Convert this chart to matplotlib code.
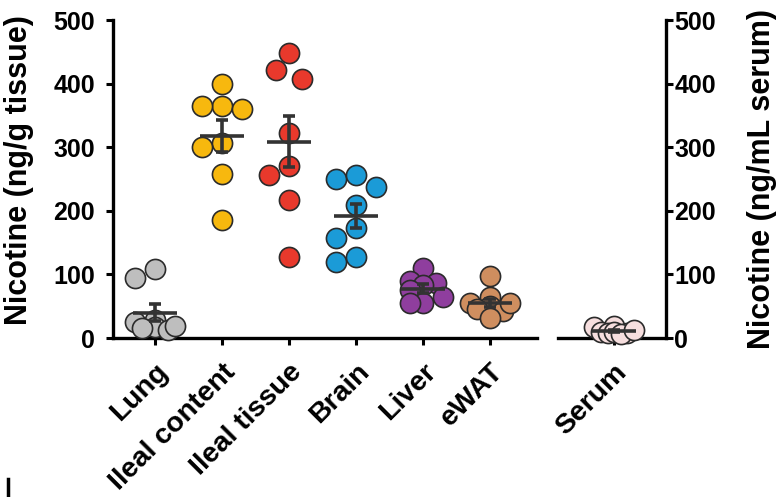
import numpy as np
import matplotlib
matplotlib.use("Agg")
import matplotlib.pyplot as plt
from matplotlib.lines import Line2D

plt.rcParams['font.family'] = ['Liberation Sans', 'DejaVu Sans']
plt.rcParams['font.weight'] = 'bold'

# ---- data ----
tissues = ["Lung", "Ileal content", "Ileal tissue", "Brain", "Liver", "eWAT"]
lung = [108, 95, 28, 25, 18, 15, 12, 19]
ileal_content = [400, 365, 365, 360, 307, 300, 258, 185]
ileal_tissue = [448, 422, 408, 322, 270, 256, 217, 128]
brain = [238, 250, 257, 209, 173, 157, 120, 128]
liver = [110, 87, 89, 83, 76, 65, 55, 55]
ewat = [97, 65, 55, 50, 45, 42, 55, 31]
serum_label = "Serum"
serum = [19, 17, 9, 8, 8, 10, 7, 12]
yticks = [0, 100, 200, 300, 400, 500]

tissue_values = [lung, ileal_content, ileal_tissue, brain, liver, ewat]
tissue_colors = ["#BEBEBE", "#F7B80E", "#E8392C", "#1B9BD7", "#8F3E9E", "#CF8E5F"]
serum_color = "#F6DEDE"
edge = "#2B2B2B"
dark = "#333333"

W, H = 777, 497
fig = plt.figure(figsize=(W / 100, H / 100), dpi=100)

ax1 = fig.add_axes([113 / W, 1 - 338 / H, 424 / W, 318 / H])
ax2 = fig.add_axes([558 / W, 1 - 338 / H, 108 / W, 318 / H])

ax1.set_xlim(-0.627, 5.70)
ax2.set_xlim(-0.836, 0.776)
for ax in (ax1, ax2):
    ax.set_ylim(0, 500)
    ax.set_facecolor("none")

px_per_x = 67.0
px_per_y = 318 / 500.0
diam = 20.0


def swarm(vals):
    """GraphPad-like column scatter: offsets on a small grid, overlap allowed."""
    vals = np.asarray(vals, float)
    order = np.argsort(-vals)
    placed = []
    offs = np.zeros(len(vals))
    cands = [0.0, -13.0, 13.0, -6.5, 6.5, -20.0, 20.0]
    need = diam * 0.9
    for i in order:
        y = vals[i] * px_per_y
        best, best_d = None, -1
        for c in cands:
            md = min([np.hypot(c - xj, y - yj) for xj, yj in placed] + [1e9])
            if md >= need:
                best = c
                break
            if md > best_d + 3:
                best_d, best = md, c
        placed.append((best, y))
        offs[i] = best / px_per_x
    return offs


def draw_group(ax, x0, vals, color):
    vals = np.asarray(vals, float)
    offs = swarm(vals)
    ax.scatter(x0 + offs, vals, s=210, facecolor=color, edgecolor=edge,
               linewidth=1.2, zorder=3, clip_on=False)
    m = vals.mean()
    sem = vals.std(ddof=1) / np.sqrt(len(vals))
    ax.plot([x0 - 0.33, x0 + 0.33], [m, m], color=dark, lw=2.6, zorder=4,
            solid_capstyle='butt', clip_on=False)
    ax.errorbar([x0], [m], yerr=[[sem], [sem]], fmt='none', ecolor=dark,
                elinewidth=2.6, capsize=4.5, capthick=2.6, zorder=4, clip_on=False)


for i, (vals, col) in enumerate(zip(tissue_values, tissue_colors)):
    draw_group(ax1, i, vals, col)
draw_group(ax2, 0, serum, serum_color)

# spines / ticks
lw = 2.4
for sp in ("top", "right"):
    ax1.spines[sp].set_visible(False)
for sp in ("top", "left"):
    ax2.spines[sp].set_visible(False)
ax1.spines['left'].set_linewidth(lw)
ax1.spines['bottom'].set_linewidth(lw)
ax2.spines['right'].set_linewidth(lw)
ax2.spines['bottom'].set_linewidth(lw)
for ax in (ax1, ax2):
    ax.spines['bottom'].set_zorder(2)

ax1.set_yticks(yticks)
ax1.set_yticklabels([str(t) for t in yticks])
ax2.yaxis.tick_right()
ax2.yaxis.set_label_position("right")
ax2.set_yticks(yticks)
ax2.set_yticklabels([str(t) for t in yticks])

ax1.set_xticks(range(len(tissues)))
ax1.set_xticklabels(tissues, rotation=45, ha='right', rotation_mode='anchor')
ax2.set_xticks([0])
ax2.set_xticklabels([serum_label], rotation=45, ha='right', rotation_mode='anchor')

for ax in (ax1, ax2):
    ax.tick_params(axis='both', direction='out', length=5, width=2.2,
                   colors='black')
    ax.tick_params(axis='x', labelsize=20.5, pad=10)
    for lab in ax.get_xticklabels() + ax.get_yticklabels():
        lab.set_fontweight('bold')
ax1.tick_params(axis='y', labelsize=18, pad=8)
ax2.tick_params(axis='y', labelsize=18, pad=1)

ax1.set_ylabel("Nicotine (ng/g tissue)", fontsize=22, fontweight='bold')
ax1.yaxis.set_label_coords(-0.186, 0.528)
ax2.set_ylabel("Nicotine (ng/mL serum)", fontsize=22, fontweight='bold', labelpad=22)

# small mark at lower-left (edge of neighbouring panel)
fig.add_artist(Line2D([8 / W, 8 / W], [0, 18 / H], color='black', lw=2.5,
                      transform=fig.transFigure))

fig.savefig("out.png", dpi=100)
